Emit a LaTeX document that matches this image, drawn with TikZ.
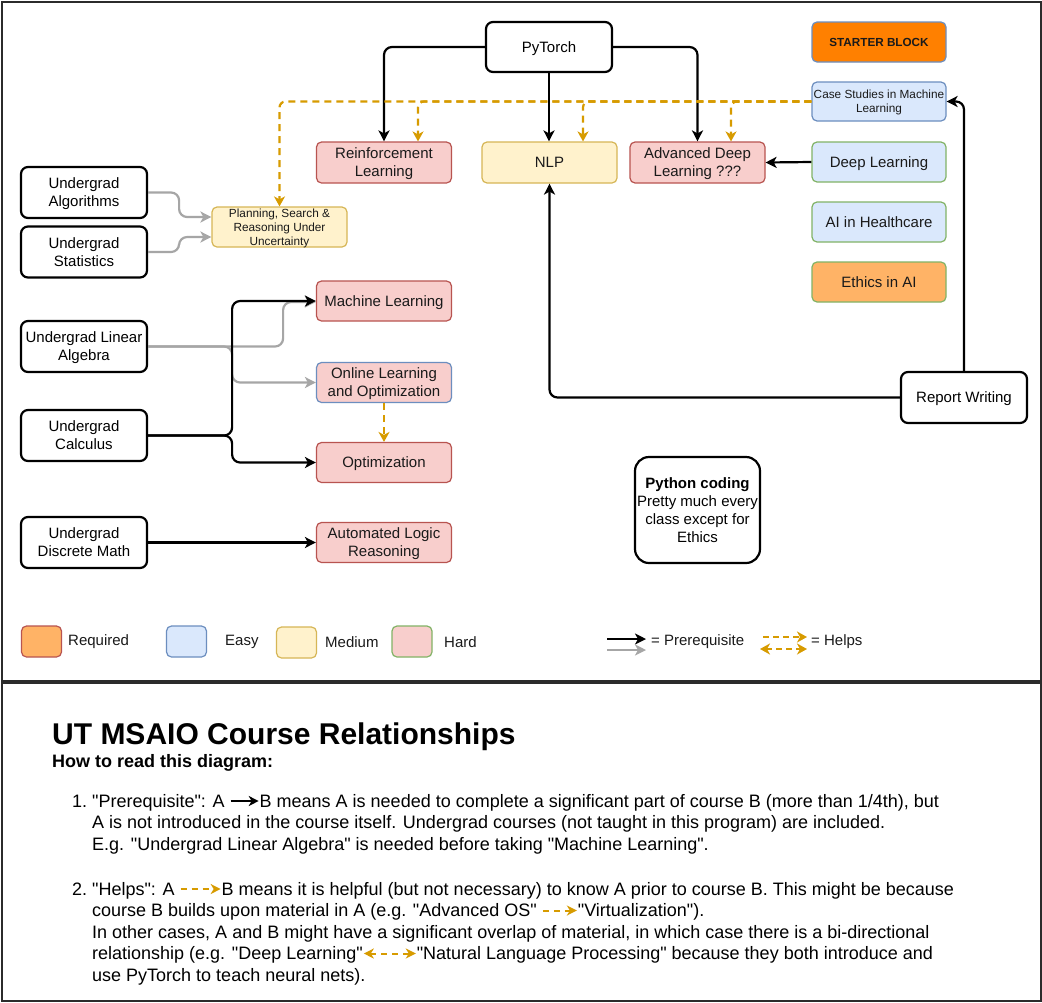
\documentclass[tikz,border=0pt]{standalone}
\usepackage{fontspec}
\setmainfont{Liberation Sans}
\newfontfamily\plainsans{Liberation Sans}
\usetikzlibrary{arrows.meta,calc}
\definecolor{pinkF}{HTML}{F8CECC}
\definecolor{redS}{HTML}{B85450}
\definecolor{blueF}{HTML}{DAE8FC}
\definecolor{blueS}{HTML}{6C8EBF}
\definecolor{yelF}{HTML}{FFF2CC}
\definecolor{yelS}{HTML}{D6B656}
\definecolor{greenS}{HTML}{82B366}
\definecolor{orF}{HTML}{FFB366}
\definecolor{starterF}{HTML}{FF8000}
\definecolor{helpC}{HTML}{D79B00}
\definecolor{grayC}{HTML}{A6A6A6}
\definecolor{frameC}{HTML}{2B2B2B}
\definecolor{txt}{HTML}{1A1A1A}
\newcommand\myNF{\fontsize{15}{18}\selectfont}
\newcommand\mySF{\fontsize{11.8}{14}\selectfont}
\newcommand\myTF{\plainsans\fontsize{18}{21.6}\selectfont}
\newcommand\myPreArr{\tikz[baseline=-6pt]\draw[black,line width=2pt,-{Stealth[length=10pt,width=10pt,inset=3pt]}] (0pt,0pt) -- (28pt,0pt);}
\newcommand\myHelpArr[1]{\tikz[baseline=-6pt]\draw[helpC,line width=2pt,dash pattern=on 6pt off 5pt,-{Stealth[length=10pt,width=10pt,inset=3pt]}] (0pt,0pt) -- (#1,0pt);}
\newcommand\myBiArr{\tikz[baseline=-6pt]\draw[helpC,line width=2pt,dash pattern=on 6pt off 5pt,{Stealth[length=10pt,width=10pt,inset=3pt]}-{Stealth[length=10pt,width=10pt,inset=3pt]}] (0pt,0pt) -- (52pt,0pt);}
\begin{document}
\begin{tikzpicture}[x=1pt,y=-1pt,
  ug/.style={draw=black,line width=2.2pt,rounded corners=7pt,fill=white,minimum width=126pt,minimum height=51pt,inner sep=1pt,align=center,font=\myNF,text=black,text depth=0pt},
  crs/.style={line width=1.2pt,rounded corners=5pt,minimum width=135pt,minimum height=40pt,inner xsep=1pt,inner ysep=0pt,align=center,font=\myNF,text=txt,text depth=0pt},
  hardc/.style={crs,fill=pinkF,draw=redS},
  medc/.style={crs,fill=yelF,draw=yelS},
  easyc/.style={crs,fill=blueF,draw=greenS},
  prq/.style={draw=black,line width=2.2pt,rounded corners=8pt,-{Stealth[length=11pt,width=11pt,inset=3pt]}},
  preg/.style={prq,draw=grayC},
  hlp/.style={draw=helpC,line width=2.2pt,dash pattern=on 7pt off 5pt,rounded corners=6pt,-{Stealth[length=10pt,width=11pt,inset=3pt]}},
  legbox/.style={line width=1.2pt,rounded corners=5pt,minimum width=40pt,minimum height=31pt,inner sep=0pt},
  ltxt/.style={font=\myNF,inner sep=0pt,anchor=west,text=txt},
  btxt/.style={font=\myTF,inner sep=0pt,anchor=base west,text=black}
]
\useasboundingbox (0,0) rectangle (1042,1002);
\fill[white] (0,0) rectangle (1042,1002);
% frames
\draw[frameC,line width=2pt] (1.5,1.5) rectangle (1040.5,680.5);
\draw[frameC,line width=2pt] (1.5,682.5) rectangle (1040.5,1000.5);

% undergrad nodes
\node[ug] (alg) at (84,192.5) {Undergrad\\Algorithms};
\node[ug] (sta) at (84,252) {Undergrad\\Statistics};
\node[ug] (la) at (84,346.5) {Undergrad Linear\\Algebra};
\node[ug] (ca) at (84,435.5) {Undergrad\\Calculus};
\node[ug] (dm) at (84,542.5) {Undergrad\\Discrete Math};

% courses
\node[medc,font=\mySF] (plan) at (279.5,227) {Planning, Search \&\\Reasoning Under\\Uncertainty};
\node[hardc,minimum height=41pt] (rl) at (384,162.5) {Reinforcement\\Learning};
\node[hardc] (ml) at (384,301) {Machine Learning};
\node[hardc,draw=blueS] (ol) at (384,382.5) {Online Learning\\and Optimization};
\node[hardc] (opt) at (384,462.5) {Optimization};
\node[hardc] (alr) at (384,542.5) {Automated Logic\\Reasoning};
\node[ug,minimum height=50pt] (py) at (549,47) {PyTorch};
\node[medc,minimum height=41pt] (nlp) at (549.5,162.5) {NLP};
\node[hardc,minimum height=41pt] (adl) at (697.5,162.5) {Advanced Deep\\Learning ???};
\node[crs,minimum width=134pt,fill=starterF,draw=blueS,font=\fontsize{11.7}{14}\selectfont\bfseries] (sb) at (879,42) {STARTER BLOCK};
\node[crs,minimum width=134pt,minimum height=39pt,fill=blueF,draw=blueS,font=\mySF] (cs) at (879,101.5) {Case Studies in Machine\\Learning};
\node[easyc,minimum width=134pt] (dl) at (879,162) {Deep Learning};
\node[easyc,minimum width=134pt] (aih) at (879,222) {AI in Healthcare};
\node[crs,minimum width=134pt,fill=orF,draw=greenS] (eth) at (879,282) {Ethics in AI};
\node[ug] (rw) at (964,397.5) {Report Writing};
\node[ug,minimum width=125pt,minimum height=106pt,rounded corners=14pt] (pyc) at (697.5,510) {\textbf{Python coding}\\Pretty much every\\class except for\\Ethics};

% prerequisite connectors
\draw[prq] (py.west) -| (rl.north);
\draw[prq] (py.south) -- (py.south |- nlp.north);
\draw[prq] (py.east) -| (adl.north);
\draw[prq] (dl.west) -- (adl.east);
\draw[prq] (rw.west) -| (nlp.south);
\draw[prq] (rw.north) |- (cs.east);

\draw[preg] (alg.east) -- ++(31,0) |- ($(plan.west)+(0,-10)$);
\draw[preg] (sta.east) -- ++(31,0) |- ($(plan.west)+(0,10)$);
\draw[preg] (la.east) -- ++(135,0) |- ($(ml.west)+(0,1)$);
\draw[preg] (la.east) -- ++(84,0) |- (ol.west);
\draw[prq] (ca.east) -- ++(84,0) |- (ml.west);
\draw[prq] (ca.east) -- ++(84,0) |- (opt.west);
\draw[prq] (dm.east) -- (alr.west);

% helps connectors
\draw[hlp] (cs.west) -| (plan.north);
\draw[hlp] (cs.west) -| ($(rl.north)+(34,0)$);
\draw[hlp] (cs.west) -| ($(nlp.north)+(33.5,0)$);
\draw[hlp] (cs.west) -| ($(adl.north)+(33.5,0)$);
\draw[hlp] (ol.south) -- (opt.north);

% legend
\node[legbox,fill=orF,draw=redS] (lg1) at (41.5,641.5) {};
\node[ltxt] (lg1t) at (68,642) {Required};
\node[legbox,fill=blueF,draw=blueS] (lg2) at (186.5,641.5) {};
\node[ltxt] (lg2t) at (225,642) {Easy};
\node[legbox,fill=yelF,draw=yelS] (lg3) at (296.5,642.5) {};
\node[ltxt] (lg3t) at (325,642) {Medium};
\node[legbox,fill=pinkF,draw=greenS] (lg4) at (412,641.5) {};
\node[ltxt] (lg4t) at (444,642) {Hard};
\coordinate (pa1) at (607,639); \coordinate (pb1) at (646,639);
\coordinate (pa2) at (607,650); \coordinate (pb2) at (646,650);
\draw[prq] (pa1) -- (pb1);
\draw[preg] (pa2) -- (pb2);
\node[ltxt] (lgp) at (651,642) {= Prerequisite};
\coordinate (ha1) at (763,637); \coordinate (hb1) at (807,637);
\coordinate (ha2) at (760,649); \coordinate (hb2) at (807,649);
\draw[hlp,dash pattern=on 6pt off 4pt] (ha1) -- (hb1);
\draw[hlp,dash pattern=on 6pt off 4pt,{Stealth[length=10pt,width=11pt,inset=3pt]}-{Stealth[length=10pt,width=11pt,inset=3pt]}] (ha2) -- (hb2);
\node[ltxt] (lgh) at (811,642) {= Helps};

% explanation text
\node[btxt,font=\plainsans\fontsize{30}{36}\selectfont\bfseries] (ttl) at (52,744) {UT MSAIO Course Relationships};
\node[btxt,font=\plainsans\fontsize{18}{21.6}\selectfont\bfseries] (sub) at (52,767) {How to read this diagram:};
\node[btxt] (p1a) at (92,807) {\llap{1.\ }"Prerequisite": A \myPreArr B means A is needed to complete a significant part of course B (more than 1/4th), but};
\node[btxt] (p1b) at (92,828.6) {A is not introduced in the course itself. Undergrad courses (not taught in this program) are included.};
\node[btxt] (p1c) at (92,850.2) {E.g. "Undergrad Linear Algebra" is needed before taking "Machine Learning".};
\node[btxt] (p2a) at (92,895) {\llap{2.\ }"Helps": A \myHelpArr{40pt}B means it is helpful (but not necessary) to know A prior to course B. This might be because};
\node[btxt] (p2b) at (92,916.5) {course B builds upon material in A (e.g. "Advanced OS" \myHelpArr{34pt}"Virtualization").};
\node[btxt] (p2c) at (92,938) {In other cases, A and B might have a significant overlap of material, in which case there is a bi-directional};
\node[btxt] (p2d) at (92,959.5) {relationship (e.g. "Deep Learning"\myBiArr"Natural Language Processing" because they both introduce and};
\node[btxt] (p2e) at (92,981) {use PyTorch to teach neural nets).};
\end{tikzpicture}
\end{document}
